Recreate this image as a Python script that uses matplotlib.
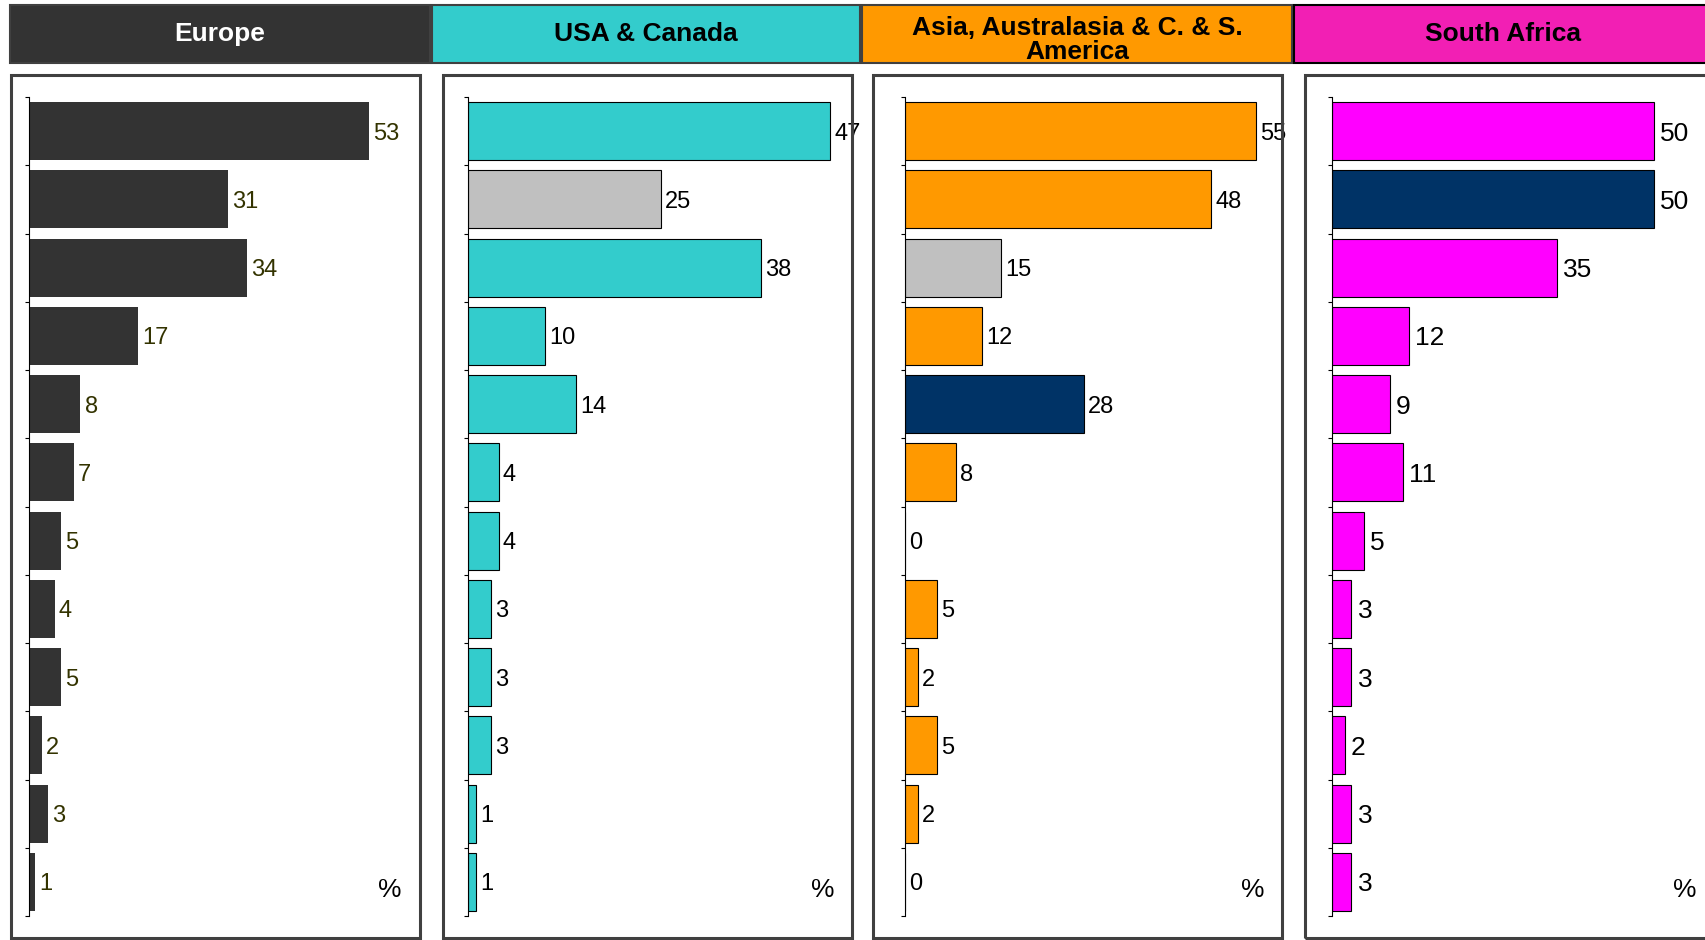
import matplotlib.pyplot as plt
import numpy as np
from matplotlib.patches import Rectangle

plt.rcParams.update({"font.family": ["Liberation Sans", "DejaVu Sans"]})

# Regions and the share (%) for each of the 12 rows
regions = ["Europe", "USA & Canada", "Asia, Australasia & C. & S.\nAmerica", "South Africa"]
europe = [53, 31, 34, 17, 8, 7, 5, 4, 5, 2, 3, 1]
usa_canada = [47, 25, 38, 10, 14, 4, 4, 3, 3, 3, 1, 1]
asia_america = [55, 48, 15, 12, 28, 8, 0, 5, 2, 5, 2, 0]
south_africa = [50, 50, 35, 12, 9, 11, 5, 3, 3, 2, 3, 3]

# highlighted rows per region: {row: colour}
highlights = [
    {},
    {1: "#C0C0C0"},
    {2: "#C0C0C0", 4: "#003366"},
    {1: "#003366"},
]

W, H = 1705, 940
fig = plt.figure(figsize=(W / 100, H / 100), dpi=100)


def px_box(x0, y0, x1, y1):
    # pixel box (top-left origin) -> figure fraction [left, bottom, width, height]
    return [x0 / W, 1 - y1 / H, (x1 - x0) / W, (y1 - y0) / H]


header_fill = ["#333333", "#33CCCC", "#FF9900", "#F21FB4"]
header_edge = ["#404040", "#404040", "#404040", "#000000"]
header_text = ["white", "black", "black", "black"]
header_x = [(10, 430), (432, 860), (862, 1292), (1294, 1712)]

bar_fill = ["#333333", "#33CCCC", "#FF9900", "#FF00FF"]
bar_edge = ["none", "black", "black", "black"]
label_color = ["#333300", "black", "black", "black"]
label_font = [
    ["Liberation Sans Narrow", "Liberation Sans"],
    ["Liberation Sans Narrow", "Liberation Sans"],
    ["Liberation Sans Narrow", "Liberation Sans"],
    ["Liberation Sans", "DejaVu Sans"],
]
label_size = [17, 17, 17, 19]
label_pad = [3, 3, 3, 4.5]

box_left = [11, 443, 873, 1305]
axis_left = [29, 468, 905, 1332]
axis_width = [385, 385, 383, 386]
x_max = [60, 50, 60, 60]

series = [europe, usa_canada, asia_america, south_africa]

for i, values in enumerate(series):
    # coloured region header
    l, b, w, h = px_box(header_x[i][0], 5, header_x[i][1], 63)
    fig.patches.append(
        Rectangle((l, b), w, h, transform=fig.transFigure, facecolor=header_fill[i],
                  edgecolor=header_edge[i], linewidth=1.5, zorder=1)
    )
    ty = 1 - 40 / H if "\n" in regions[i] else 1 - 34 / H
    fig.text(l + w / 2, ty, regions[i], ha="center", va="center", fontsize=19,
             fontweight="bold", color=header_text[i], linespacing=0.95, zorder=2)

    # panel frame
    l, b, w, h = px_box(box_left[i], 75, box_left[i] + 409, 938)
    fig.patches.append(
        Rectangle((l, b), w, h, transform=fig.transFigure, facecolor="none",
                  edgecolor="#404040", linewidth=2.2, zorder=1)
    )
    fig.text(l + w - 18 / W, 1 - 890 / H, "%", ha="right", va="center", fontsize=19)

    ax = fig.add_axes(px_box(axis_left[i], 97, axis_left[i] + axis_width[i], 916))
    ax.patch.set_alpha(0)
    rows = np.arange(len(values))
    colors = [highlights[i].get(r, bar_fill[i]) for r in rows]
    ax.barh(rows, values, height=0.85, color=colors, edgecolor=bar_edge[i],
            linewidth=0.8 if bar_edge[i] != "none" else 0)
    for r, v in zip(rows, values):
        ax.annotate(str(v), (v, r), xytext=(label_pad[i], 0), textcoords="offset points",
                    ha="left", va="center_baseline", fontsize=label_size[i],
                    color=label_color[i], family=label_font[i], annotation_clip=False)

    ax.set_xlim(0, x_max[i])
    ax.set_ylim(len(values) - 0.5, -0.5)
    ax.set_yticks(np.arange(-0.5, len(values), 1))
    ax.set_yticklabels([])
    ax.tick_params(axis="y", direction="out", length=3, width=0.8, color="black")
    ax.set_xticks([])
    for side in ["top", "right", "bottom"]:
        ax.spines[side].set_visible(False)
    ax.spines["left"].set_linewidth(0.8)

fig.savefig("out.png", dpi=100)
